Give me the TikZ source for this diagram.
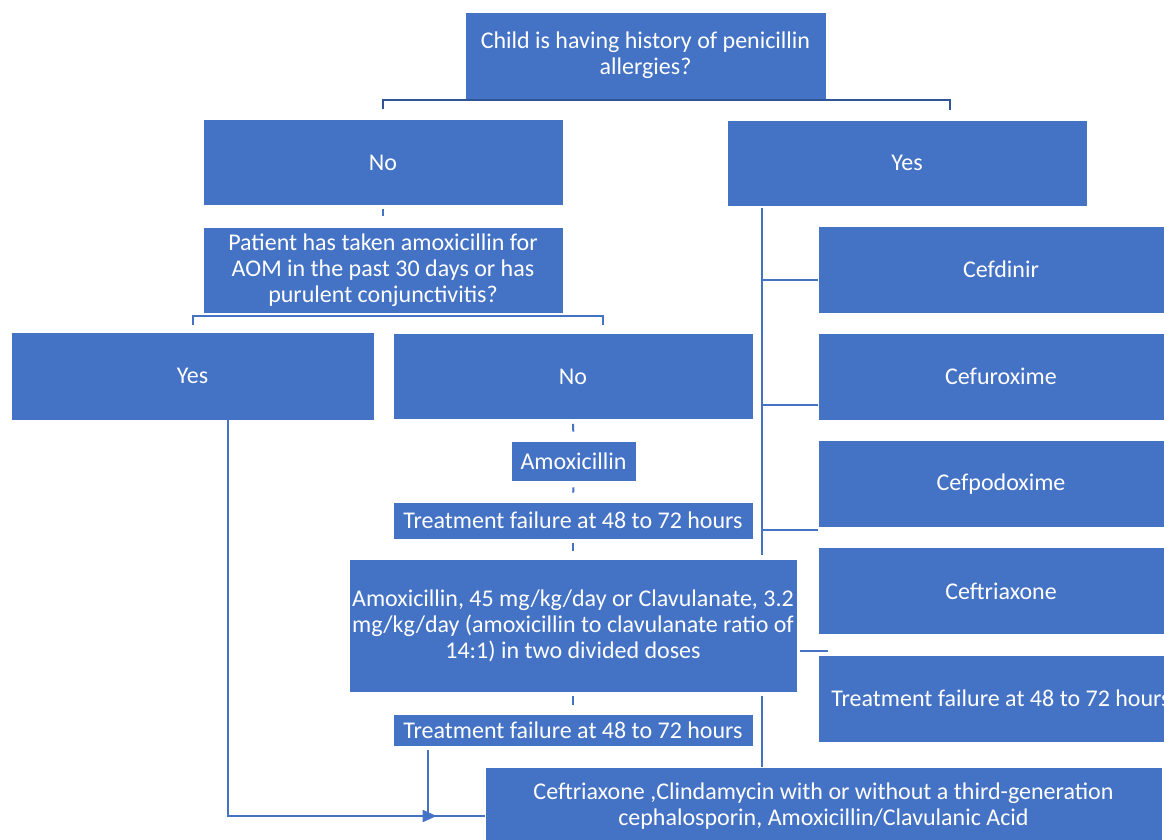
\documentclass[tikz,border=0pt]{standalone}
\usepackage{fontspec}
\setmainfont{Carlito}
\usepackage{tikz}
\usetikzlibrary{positioning, calc, arrows.meta}
\definecolor{boxblue}{HTML}{4472C4}
\definecolor{darkblue}{HTML}{2F5597}

\begin{document}
\begin{tikzpicture}[
		x=0.5pt, y=-0.5pt,
		box/.style={rectangle, fill=boxblue, draw=white, line width=0.4pt, text=white, inner sep=0pt, align=center, font=\fontsize{12}{13}\selectfont},
		wbox/.style={box, minimum width=180pt, minimum height=43pt},
		link/.style={draw=boxblue, line width=1pt},
		>={Triangle[length=7pt,width=6pt]}
		]
		\useasboundingbox (0,0) rectangle (1164,840);
		
		\node[box, minimum width=180.5pt, minimum height=43.5pt] (q0) at (645.5, 55.5) {Child is having history of penicillin\\allergies?};
		\node[wbox] (no1) at (383, 162.5) {No};
		\node[wbox] (yes1) at (907, 163) {Yes};
		\node[wbox] (q1) at (383, 270) {Patient has taken amoxicillin for\\AOM in the past 30 days or has\\purulent conjunctivitis?};
		\node[box, minimum width=181.5pt, minimum height=44pt] (yes2) at (192.5, 376) {Yes};
		\node[wbox] (no2) at (573, 376.5) {No};
		\node[box, minimum width=62.5pt, minimum height=20pt] (amx) at (573.5, 461) {Amoxicillin};
		\node[box, minimum width=180pt, minimum height=18.5pt] (tf1) at (573, 520.5) {Treatment failure at 48 to 72 hours};
		\node[box, minimum width=224pt, minimum height=66.5pt] (amxclv) at (573, 625.5) {Amoxicillin, 45 mg/kg/day or Clavulanate, 3.2\\mg/kg/day (amoxicillin to clavulanate ratio of\\14:1) in two divided doses};
		\node[box, minimum width=180pt, minimum height=16pt] (tf2) at (573, 730) {Treatment failure at 48 to 72 hours};
		\node[box, minimum width=338.5pt, minimum height=39pt] (fin) at (823.5, 806) {Ceftriaxone ,Clindamycin with or without a third-generation\\cephalosporin, Amoxicillin/Clavulanic Acid};
		
		\foreach \drug [count=\i] in {Cefdinir,Cefuroxime,Cefpodoxime,Ceftriaxone,Treatment failure at 48 to 72 hours}
		\node[box, minimum width=183pt, minimum height=43.5pt] (c\i) at (1001, {269.5+107.25*(\i-1)}) {\drug};
		
		% brackets
		\draw[draw=darkblue, line width=1pt] ([yshift=5pt]no1.north) |- ([yshift=-0.5pt]q0.south) -| ([xshift=21.5pt,yshift=5pt]yes1.north);
		\draw[link] ([yshift=3.5pt]yes2.north) |- ([yshift=-1.5pt]q1.south) -| ([xshift=15pt,yshift=4pt]no2.north);
		
		% short stubs down the middle column
		\draw[link, shorten <=1.5pt, shorten >=5.5pt] (no1.south) -- (q1.north);
		\draw[link, shorten <=2pt, shorten >=4.5pt] (no2.south) -- (amx.north);
		\draw[link, shorten <=3pt, shorten >=4.5pt] (amx.south) -- (tf1.north);
		\draw[link, shorten <=2pt, shorten >=4pt] (tf1.south) -- (amxclv.north);
		\draw[link, shorten <=2pt, shorten >=4.5pt] (amxclv.south) -- (tf2.north);
		
		% trunk under Yes
		\coordinate (tk) at ([xshift=-72.5pt]yes1.south);
		\draw[link] ($(tk)+(0,2)$) -- ($(tk |- c4.north)+(0,8)$);
		\foreach \i/\dy in {1/5.25,2/14.25,3/22.75}
		\draw[link] ([yshift=-\dy pt]c\i.west) -- ++(-28pt,0);
		\draw[link] ([xshift=1.5pt,yshift=-12.75pt]amxclv.east) -- ++(14pt,0);
		\draw[link] ($(amxclv.south -| tk)+(0,4)$) -- (fin.north -| tk);
		
		% into the last box
		\draw[link, ->, shorten >=24pt] ([xshift=17.75pt]yes2.south) |- ([yshift=-5pt]fin.west);
		\draw[link] ([xshift=-72.5pt,yshift=-2pt]tf2.south) |- ([yshift=-5pt]fin.west);
\end{tikzpicture}
\end{document}
